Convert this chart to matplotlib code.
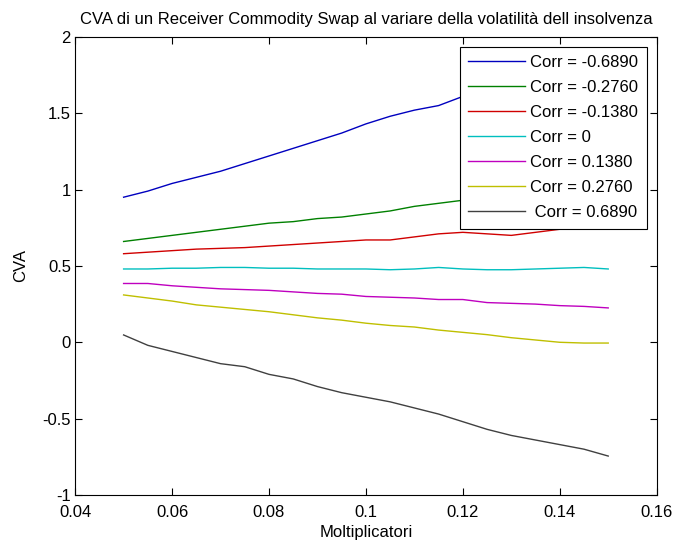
import matplotlib.pyplot as plt

# CVA against the multiplier, one curve per correlation level
moltiplicatori = [0.05, 0.055, 0.06, 0.065, 0.07, 0.075, 0.08, 0.085, 0.09, 0.095, 0.10,
                  0.105, 0.11, 0.115, 0.12, 0.125, 0.13, 0.135, 0.14, 0.145, 0.15]

cva_m0689 = [0.95, 0.99, 1.04, 1.08, 1.12, 1.17, 1.22, 1.27, 1.32, 1.37, 1.43,
             1.48, 1.52, 1.55, 1.61, 1.66, 1.71, 1.76, 1.81, 1.86, 1.91]
cva_m0276 = [0.66, 0.68, 0.70, 0.72, 0.74, 0.76, 0.78, 0.79, 0.81, 0.82, 0.84,
             0.86, 0.89, 0.91, 0.93, 0.95, 0.97, 0.99, 1.01, 1.03, 1.05]
cva_m0138 = [0.58, 0.59, 0.60, 0.61, 0.615, 0.62, 0.63, 0.64, 0.65, 0.66, 0.67,
             0.67, 0.69, 0.71, 0.72, 0.71, 0.70, 0.72, 0.74, 0.75, 0.76]
cva_0 = [0.48, 0.48, 0.485, 0.485, 0.49, 0.49, 0.485, 0.485, 0.48, 0.48, 0.48,
         0.475, 0.48, 0.49, 0.48, 0.475, 0.475, 0.48, 0.485, 0.49, 0.48]
cva_p0138 = [0.385, 0.385, 0.37, 0.36, 0.35, 0.345, 0.34, 0.33, 0.32, 0.315, 0.30,
             0.295, 0.29, 0.28, 0.28, 0.26, 0.255, 0.25, 0.24, 0.235, 0.225]
cva_p0276 = [0.31, 0.29, 0.27, 0.245, 0.23, 0.215, 0.20, 0.18, 0.16, 0.145, 0.125,
             0.11, 0.10, 0.08, 0.065, 0.05, 0.03, 0.015, 0.0, -0.005, -0.005]
cva_p0689 = [0.048, -0.02, -0.06, -0.10, -0.14, -0.16, -0.21, -0.24, -0.29, -0.33, -0.36,
             -0.39, -0.43, -0.47, -0.52, -0.57, -0.61, -0.64, -0.67, -0.70, -0.745]

serie = [cva_m0689, cva_m0276, cva_m0138, cva_0, cva_p0138, cva_p0276, cva_p0689]
etichette = ['Corr = -0.6890', 'Corr = -0.2760', 'Corr = -0.1380', 'Corr = 0',
             'Corr = 0.1380', 'Corr = 0.2760', ' Corr = 0.6890']
colori = ['#0000bf', '#008000', '#d00000', '#00bfbf', '#bf00bf', '#bfbf00', '#404040']

plt.rcParams['font.family'] = 'Liberation Sans'
plt.rcParams['font.size'] = 12

fig = plt.figure(figsize=(6.77, 5.5), dpi=100)
ax = fig.add_axes([0.111, 0.1, 0.859, 0.833])

for y, lab, c in zip(serie, etichette, colori):
    ax.plot(moltiplicatori, y, color=c, linewidth=1.0, label=lab)

ax.set_xlim(0.04, 0.16)
ax.set_ylim(-1, 2)
ax.set_xticks([0.04, 0.06, 0.08, 0.1, 0.12, 0.14, 0.16])
ax.set_xticklabels(['0.04', '0.06', '0.08', '0.1', '0.12', '0.14', '0.16'])
ax.set_yticks([-1, -0.5, 0, 0.5, 1, 1.5, 2])
ax.set_yticklabels(['-1', '-0.5', '0', '0.5', '1', '1.5', '2'])
ax.tick_params(direction='in', length=5, top=True, right=True, width=0.8, pad=3)
ax.tick_params(axis='x', pad=7)
for s in ax.spines.values():
    s.set_linewidth(0.8)

ax.set_title('CVA di un Receiver Commodity Swap al variare della volatilità dell insolvenza',
             fontsize=12, pad=9)
ax.set_xlabel('Moltiplicatori', labelpad=4)
ax.set_ylabel('CVA', labelpad=10)

leg = ax.legend(loc='upper right', bbox_to_anchor=(0.983, 0.978), borderaxespad=0,
                frameon=True, fancybox=False, edgecolor='black', framealpha=1,
                handlelength=3.4, handletextpad=0.35, labelspacing=0.6, borderpad=0.5)
leg.get_frame().set_linewidth(0.8)

fig.savefig('out.png', dpi=100)
